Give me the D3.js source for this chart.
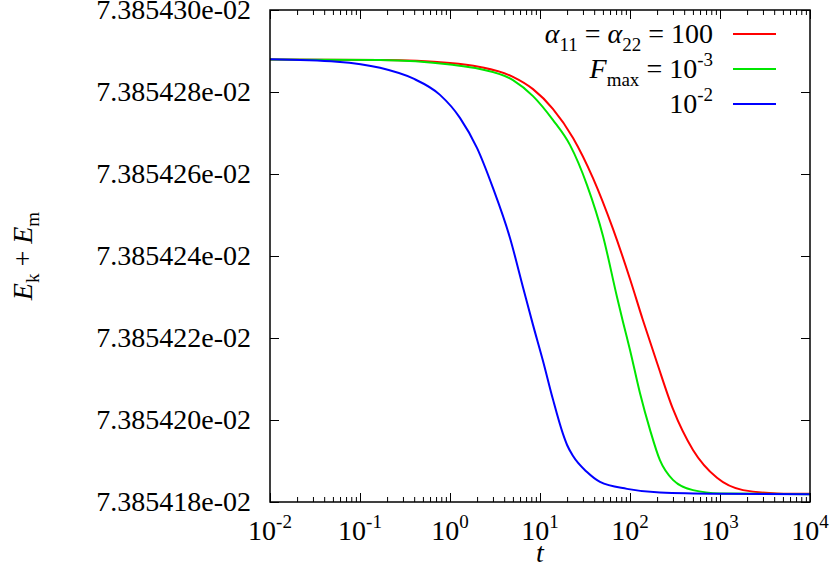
<!DOCTYPE html>
<html>
<head>
<meta charset="utf-8">
<script src="https://cdn.jsdelivr.net/npm/d3@7"></script>
<style>
  body { margin: 0; background: #fff; }
  text { font-family: "Liberation Serif", "Times New Roman", Times, "DejaVu Serif", serif; fill: #000; }
</style>
</head>
<body>
<div id="chart"></div>
<script>
// values (t, Ek + Em)
var tRed = [0.01, 0.167, 1.0, 2.15, 5.01, 8.36, 13.9, 23.3, 38.8, 64.7, 100, 139, 200, 300, 501, 926, 1801, 4300, 10000];
var eRed = [7.38542879e-2, 7.38542878e-2, 7.38542871e-2, 7.38542861e-2, 7.38542837e-2, 7.38542807e-2, 7.38542759e-2,
            7.38542688e-2, 7.38542590e-2, 7.38542466e-2, 7.38542344e-2, 7.38542244e-2, 7.38542139e-2, 7.38542027e-2,
            7.38541927e-2, 7.38541859e-2, 7.38541829e-2, 7.38541821e-2, 7.38541820e-2];

var tGreen = [0.01, 0.167, 1.0, 2.15, 5.01, 8.36, 13.9, 21.5, 33.3, 50.1, 71.7, 83.6, 100, 129, 167, 215, 300, 501, 1000, 10000];
var eGreen = [7.38542879e-2, 7.38542878e-2, 7.38542867e-2, 7.38542856e-2, 7.38542829e-2, 7.38542790e-2, 7.38542732e-2,
              7.38542671e-2, 7.38542573e-2, 7.38542449e-2, 7.38542300e-2, 7.38542239e-2, 7.38542171e-2, 7.38542066e-2,
              7.38541976e-2, 7.38541902e-2, 7.38541854e-2, 7.38541829e-2, 7.38541821e-2, 7.38541819e-2];

var tBlue = [0.01, 0.0555, 0.167, 0.388, 0.774, 1.29, 2.0, 3.0, 4.64, 6.47, 8.36, 10.8, 13.9, 18.0, 20.0, 23.3, 33.3, 46.4, 92.6, 215, 1000, 10000];
var eBlue = [7.38542880e-2, 7.38542874e-2, 7.38542859e-2, 7.38542833e-2, 7.38542793e-2, 7.38542737e-2, 7.38542663e-2,
             7.38542566e-2, 7.38542444e-2, 7.38542324e-2, 7.38542232e-2, 7.38542144e-2, 7.38542051e-2, 7.38541966e-2,
             7.38541939e-2, 7.38541912e-2, 7.38541873e-2, 7.38541849e-2, 7.38541832e-2, 7.38541823e-2, 7.38541820e-2,
             7.38541819e-2];

var yTicks = [7.385418e-2, 7.385420e-2, 7.385422e-2, 7.385424e-2, 7.385426e-2, 7.385428e-2, 7.385430e-2];
var yTickLabels = ["7.385418e-02", "7.385420e-02", "7.385422e-02", "7.385424e-02", "7.385426e-02", "7.385428e-02", "7.385430e-02"];
var xExponents = [-2, -1, 0, 1, 2, 3, 4];

var series = [
  {t: tRed, e: eRed, color: "#ff0000"},
  {t: tGreen, e: eGreen, color: "#00e600"},
  {t: tBlue, e: eBlue, color: "#0000ff"}
];

// set the dimensions and margins of the graph
var W = 831, H = 569;
var margin = {top: 10, right: 21, bottom: 67, left: 270},
    width = W - margin.left - margin.right,
    height = H - margin.top - margin.bottom;

var FS = 28, FS_SMALL = 19;

var svg = d3.select("#chart")
  .append("svg")
    .attr("width", W)
    .attr("height", H)
  .append("g")
    .attr("transform", "translate(" + margin.left + "," + margin.top + ")");

var x = d3.scaleLog().domain([1e-2, 1e4]).range([0, width]);
var y = d3.scaleLinear().domain([yTicks[0], yTicks[yTicks.length - 1]]).range([height, 0]);

var majorX = xExponents.map(function(k) { return Math.pow(10, k); });
var minorX = [];
xExponents.slice(0, -1).forEach(function(k) {
  for (var m = 2; m < 10; m++) minorX.push(m * Math.pow(10, k));
});

function tickAxis(axis, vals, size) {
  return axis.tickValues(vals).tickSize(-size).tickFormat("");
}

// ticks, all pointing inward on the four sides
var tickGroups = [
  svg.append("g").attr("transform", "translate(0," + height + ")").call(tickAxis(d3.axisBottom(x), majorX, 9)),
  svg.append("g").attr("transform", "translate(0," + height + ")").call(tickAxis(d3.axisBottom(x), minorX, 5)),
  svg.append("g").call(tickAxis(d3.axisTop(x), majorX, 9)),
  svg.append("g").call(tickAxis(d3.axisTop(x), minorX, 5)),
  svg.append("g").attr("transform", "translate(" + width + ",0)").call(tickAxis(d3.axisRight(y), yTicks, 9))
];
var yAxis = svg.append("g")
  .call(d3.axisLeft(y).tickValues(yTicks).tickSize(-9).tickPadding(19)
    .tickFormat(function(d, i) { return yTickLabels[i]; }));
tickGroups.push(yAxis);
tickGroups.forEach(function(g) {
  g.attr("font-family", null);
  g.select(".domain").remove();
  g.selectAll(".tick line").attr("stroke", "#000").attr("stroke-width", 1);
});
yAxis.attr("font-size", null);
yAxis.selectAll("text")
  .attr("font-size", FS)
  .attr("fill", "#000");

// x tick labels 10^k
majorX.forEach(function(v, i) {
  var t = svg.append("text")
    .attr("x", x(v))
    .attr("y", height + 38)
    .attr("text-anchor", "middle")
    .attr("font-size", FS);
  t.append("tspan").text("10");
  t.append("tspan").attr("dy", -12).attr("font-size", FS_SMALL).text(String(xExponents[i]));
});

// curves
var line = d3.line()
  .x(function(d) { return x(d[0]); })
  .y(function(d) { return y(d[1]); })
  .curve(d3.curveMonotoneX);

series.forEach(function(s) {
  svg.append("path")
    .datum(s.t.map(function(tt, i) { return [tt, s.e[i]]; }))
    .attr("fill", "none")
    .attr("stroke", s.color)
    .attr("stroke-width", 2)
    .attr("d", line);
});

// frame
svg.append("rect")
  .attr("width", width).attr("height", height)
  .attr("fill", "none").attr("stroke", "#000").attr("stroke-width", 1.5);

// rich text helper: parts = [text, style, shift]
function richText(sel, parts, small) {
  var shift = 0;
  parts.forEach(function(p) {
    var sp = sel.append("tspan").text(p[0]);
    if (p[1] === "i") sp.attr("font-style", "italic");
    var target = p[2] || 0;
    if (target !== shift) { sp.attr("dy", target - shift); shift = target; }
    if (target !== 0) sp.attr("font-size", small);
  });
}

// legend
var legendRows = [
  [["\u03b1", "i"], ["11", "n", 8], [" = ", "n"], ["\u03b1", "i"], ["22", "n", 8], [" = 100", "n"]],
  [["F", "i"], ["max", "n", 8], [" = 10", "n"], ["-3", "n", -12]],
  [["10", "n"], ["-2", "n", -12]]
];
legendRows.forEach(function(parts, i) {
  var yy = 24 + i * 35;
  var t = svg.append("text")
    .attr("x", 443).attr("y", yy + 9)
    .attr("text-anchor", "end")
    .attr("font-size", FS);
  richText(t, parts, FS_SMALL);
  svg.append("line")
    .attr("x1", 463).attr("x2", 506)
    .attr("y1", yy).attr("y2", yy)
    .attr("stroke", series[i].color).attr("stroke-width", 2);
});

// axis titles
svg.append("text")
  .attr("x", width / 2).attr("y", height + 60)
  .attr("text-anchor", "middle").attr("font-size", FS)
  .attr("font-style", "italic").text("t");

var yt = svg.append("text")
  .attr("transform", "translate(" + (32 - margin.left) + "," + (height / 2) + ") rotate(-90)")
  .attr("text-anchor", "middle").attr("font-size", FS);
richText(yt, [["E", "i"], ["k", "n", 7], [" + ", "n"], ["E", "i"], ["m", "n", 7]], FS_SMALL);
</script>
</body>
</html>
